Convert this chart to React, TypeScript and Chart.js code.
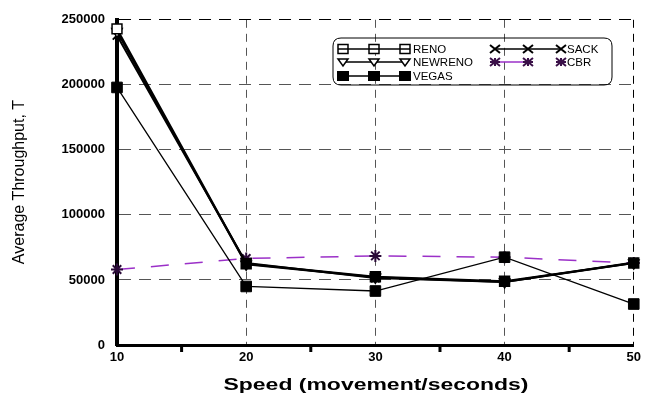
import React, { useEffect, useRef } from 'react';
import { Chart, registerables } from 'chart.js';

Chart.register(...registerables);

const speeds = [10, 20, 30, 40, 50];
const reno = [243000, 62500, 52500, 49000, 63000];
const newreno = [241000, 62000, 52000, 48500, 63000];
const sack = [238000, 63000, 51500, 48500, 63500];
const vegas = [198000, 45000, 41500, 67500, 31500];
const cbr = [58000, 66500, 68500, 67500, 63000];
const minorXTicks = [15, 25, 35, 45];
const xTitle = 'Speed (movement/seconds)';
const yTitle = 'Average Throughput, T';
const legendCol1 = ['RENO', 'NEWRENO', 'VEGAS'];
const legendCol2 = ['SACK', 'CBR'];

const PURPLE = '#9b30c8';

const toPts = (ys: number[]) => speeds.map((x, i) => ({ x, y: ys[i] }));

function markSquare(ctx: CanvasRenderingContext2D, x: number, y: number, w: number, h: number, filled: boolean) {
  ctx.beginPath();
  ctx.rect(x - w / 2, y - h / 2, w, h);
  if (filled) {
    ctx.fillStyle = '#000';
    ctx.fill();
  } else {
    ctx.fillStyle = '#fff';
    ctx.fill();
    ctx.stroke();
    ctx.beginPath();
    ctx.moveTo(x - w / 2, y);
    ctx.lineTo(x + w / 2, y);
    ctx.stroke();
  }
}
function markTriDown(ctx: CanvasRenderingContext2D, x: number, y: number, s: number) {
  ctx.beginPath();
  ctx.moveTo(x - s, y - s * 0.6);
  ctx.lineTo(x + s, y - s * 0.6);
  ctx.lineTo(x, y + s * 0.8);
  ctx.closePath();
  ctx.fillStyle = '#fff';
  ctx.fill();
  ctx.stroke();
}
function markX(ctx: CanvasRenderingContext2D, x: number, y: number, s: number) {
  ctx.beginPath();
  ctx.moveTo(x - s, y - s * 0.8);
  ctx.lineTo(x + s, y + s * 0.8);
  ctx.moveTo(x + s, y - s * 0.8);
  ctx.lineTo(x - s, y + s * 0.8);
  ctx.stroke();
}
function markStar(ctx: CanvasRenderingContext2D, x: number, y: number, s: number) {
  markX(ctx, x, y, s);
  ctx.beginPath();
  ctx.moveTo(x - s, y);
  ctx.lineTo(x + s, y);
  ctx.moveTo(x, y - s * 0.8);
  ctx.lineTo(x, y + s * 0.8);
  ctx.stroke();
}

const decor = {
  id: 'decor',
  afterDraw(chart: any) {
    const ctx: CanvasRenderingContext2D = chart.ctx;
    const xs = chart.scales.x;
    const ys = chart.scales.y;
    ctx.save();
    ctx.strokeStyle = '#000';
    ctx.lineWidth = 3;
    for (const v of minorXTicks) {
      const px = xs.getPixelForValue(v);
      ctx.beginPath();
      ctx.moveTo(px, ys.bottom);
      ctx.lineTo(px, ys.bottom + 7);
      ctx.stroke();
    }
    ctx.fillStyle = '#000';
    ctx.font = 'bold 17px Arial, "Liberation Sans", sans-serif';
    ctx.textAlign = 'center';
    ctx.textBaseline = 'alphabetic';
    const w = ctx.measureText(xTitle).width;
    ctx.save();
    ctx.translate(376, 390);
    ctx.scale(305 / w, 1);
    ctx.fillText(xTitle, 0, 0);
    ctx.restore();
    ctx.font = '16px Arial, "Liberation Sans", sans-serif';
    ctx.save();
    ctx.translate(24, 182);
    ctx.rotate(-Math.PI / 2);
    ctx.fillText(yTitle, 0, 0);
    ctx.restore();

    const bx = 333, by = 38, bw = 279, bh = 47, r = 8;
    ctx.strokeStyle = '#000';
    ctx.lineWidth = 1;
    ctx.beginPath();
    ctx.moveTo(bx + r, by);
    ctx.lineTo(bx + bw - r, by);
    ctx.quadraticCurveTo(bx + bw, by, bx + bw, by + r);
    ctx.lineTo(bx + bw, by + bh - r);
    ctx.quadraticCurveTo(bx + bw, by + bh, bx + bw - r, by + bh);
    ctx.lineTo(bx + r, by + bh);
    ctx.quadraticCurveTo(bx, by + bh, bx, by + bh - r);
    ctx.lineTo(bx, by + r);
    ctx.quadraticCurveTo(bx, by, bx + r, by);
    ctx.stroke();

    const c1 = [343, 374, 405];
    const c2 = [495, 528, 561];
    const rows = [49, 62, 76];
    ctx.font = '11.5px Arial, "Liberation Sans", sans-serif';
    ctx.textAlign = 'left';
    ctx.textBaseline = 'middle';
    legendCol1.forEach((label, i) => {
      const y = rows[i];
      ctx.strokeStyle = '#000';
      ctx.lineWidth = 1.5;
      ctx.beginPath();
      ctx.moveTo(c1[0], y);
      ctx.lineTo(c1[2], y);
      ctx.stroke();
      c1.forEach((x) => {
        if (i === 0) markSquare(ctx, x, y, 10, 9, false);
        else if (i === 1) markTriDown(ctx, x, y, 5);
        else markSquare(ctx, x, y, 12, 10, true);
      });
      ctx.fillStyle = '#000';
      ctx.fillText(label, 413, y + 1);
    });
    legendCol2.forEach((label, i) => {
      const y = rows[i];
      ctx.lineWidth = 1.5;
      ctx.strokeStyle = i === 0 ? '#000' : PURPLE;
      ctx.beginPath();
      ctx.moveTo(c2[0], y);
      ctx.lineTo(i === 0 ? c2[2] : c2[1], y);
      ctx.stroke();
      ctx.strokeStyle = i === 0 ? '#000' : '#3a1048';
      ctx.lineWidth = 2;
      c2.forEach((x) => {
        if (i === 0) markX(ctx, x, y, 5);
        else markStar(ctx, x, y, 5);
      });
      ctx.fillStyle = '#000';
      ctx.fillText(label, 567, y + 1);
    });
    ctx.restore();
  },
};

export default function App() {
  const ref = useRef<HTMLCanvasElement | null>(null);
  useEffect(() => {
    if (!ref.current) return;
    const tickFont = { family: 'Arial, "Liberation Sans", sans-serif', size: 13, weight: 'bold' as const };
    const chart = new Chart(ref.current, {
      type: 'line',
      data: {
        datasets: [
          {
            label: 'RENO',
            data: toPts(reno),
            borderColor: '#000',
            borderWidth: 2,
            pointStyle: 'rect',
            pointRadius: 7,
            pointBackgroundColor: ['#fff', '#000', '#000', '#000', '#000'],
            pointBorderColor: '#000',
            pointBorderWidth: 1.5,
            clip: false,
          },
          {
            label: 'NEWRENO',
            data: toPts(newreno),
            borderColor: '#000',
            borderWidth: 2,
            pointStyle: 'triangle',
            pointRotation: 180,
            pointRadius: 6,
            pointBackgroundColor: '#fff',
            pointBorderColor: '#000',
            pointBorderWidth: 1.5,
            clip: false,
          },
          {
            label: 'VEGAS',
            data: toPts(vegas),
            borderColor: '#000',
            borderWidth: 1.3,
            pointStyle: 'rect',
            pointRadius: 7.5,
            pointBackgroundColor: '#000',
            pointBorderColor: '#000',
            pointBorderWidth: 1,
            clip: false,
          },
          {
            label: 'SACK',
            data: toPts(sack),
            borderColor: '#000',
            borderWidth: 2,
            pointStyle: 'crossRot',
            pointRadius: 6,
            pointBorderColor: '#000',
            pointBorderWidth: 2,
            clip: false,
          },
          {
            label: 'CBR',
            data: toPts(cbr),
            borderColor: PURPLE,
            borderWidth: 1.5,
            borderDash: [18, 16],
            pointStyle: 'star',
            pointRadius: 6,
            pointBorderColor: '#2a0a38',
            pointBorderWidth: 2,
            clip: false,
          },
        ],
      },
      options: {
        animation: false,
        responsive: true,
        maintainAspectRatio: false,
        layout: { padding: { top: 18, right: 6, left: 0, bottom: 0 } },
        plugins: { legend: { display: false }, tooltip: { enabled: false } },
        elements: { line: { tension: 0, fill: false } },
        scales: {
          x: {
            type: 'linear',
            min: 10,
            max: 50,
            afterFit: (s: any) => {
              s.height = 49;
            },
            ticks: { stepSize: 10, color: '#000', font: tickFont, padding: 5, maxRotation: 0, callback: (v: any) => String(v) },
            grid: {
              drawTicks: false,
              color: (c: any) => (c.tick && c.tick.value === 10 ? 'rgba(0,0,0,0)' : c.tick && c.tick.value === 50 ? '#000' : '#555'),
              lineWidth: 1,
            },
            border: { display: true, color: '#000', width: 3, dash: [8, 6] },
          },
          y: {
            min: 0,
            max: 250000,
            afterFit: (s: any) => {
              s.width = 117;
            },
            ticks: { stepSize: 50000, color: '#000', font: tickFont, padding: 12, callback: (v: any) => String(v) },
            grid: {
              drawTicks: false,
              color: (c: any) => (c.tick && c.tick.value === 0 ? 'rgba(0,0,0,0)' : c.tick && c.tick.value === 250000 ? '#000' : '#555'),
              lineWidth: 1,
            },
            border: { display: true, color: '#000', width: 4, dash: [12, 8] },
          },
        },
      },
      plugins: [decor],
    });
    return () => chart.destroy();
  }, []);
  return (
    <div style={{ position: 'fixed', left: 0, top: 0, width: 646, height: 394, background: '#fff' }}>
      <canvas ref={ref} />
    </div>
  );
}
